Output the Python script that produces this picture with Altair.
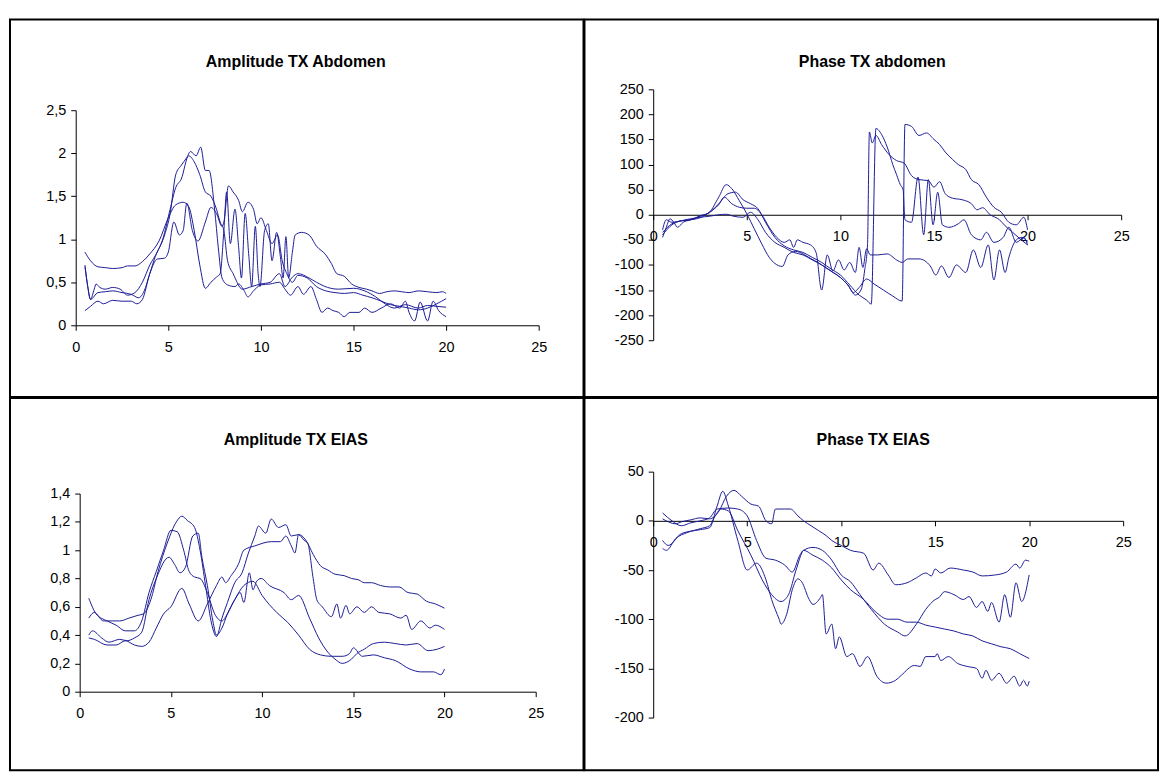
import altair as alt
import pandas as pd

FONT = "Liberation Sans"
BLUE = "#1c1c96"

X_TICKS = [0, 5, 10, 15, 20, 25]
Y_TICKS_AMP_ABD = [0, 0.5, 1, 1.5, 2, 2.5]
Y_TICKS_PH_ABD = [-250, -200, -150, -100, -50, 0, 50, 100, 150, 200, 250]
Y_TICKS_AMP_EIAS = [0, 0.2, 0.4, 0.6, 0.8, 1, 1.2, 1.4]
Y_TICKS_PH_EIAS = [-200, -150, -100, -50, 0, 50]

TITLES = ["Amplitude TX Abdomen", "Phase TX abdomen", "Amplitude TX EIAS", "Phase TX EIAS"]

# ---------------- Amplitude TX Abdomen ----------------
amp_abd_1 = [(0.5,0.85),(0.8,0.75),(1.2,0.68),(1.6,0.67),(2.0,0.66),(2.5,0.67),(2.8,0.69),(3.2,0.69),(3.6,0.74),(4.0,0.83),(4.5,0.98),(5.0,1.25),(5.4,1.4),(5.8,1.43),(6.1,1.38),(6.4,1.1),(6.7,0.7),(7.0,0.43),(7.3,0.5),(7.6,0.56),(7.8,0.6),(8.0,1.1),(8.15,1.55),(8.35,0.95),(8.6,1.35),(8.8,0.9),(8.95,0.55),(9.15,1.3),(9.35,0.8),(9.5,0.45),(9.7,1.15),(9.85,0.6),(9.95,0.45),(10.2,1.1),(10.4,1.18),(10.6,0.75),(10.85,1.08),(11.05,0.8),(11.2,0.55),(11.35,1.03),(11.5,0.55),(11.7,0.85),(11.85,1.05),(12.2,1.08),(12.6,1.05),(13.0,0.92),(13.5,0.82),(13.8,0.72),(14.1,0.6),(14.5,0.57),(14.9,0.48),(15.3,0.44),(15.7,0.42),(16.0,0.4),(16.4,0.37),(16.8,0.39),(17.2,0.4),(17.6,0.39),(18.0,0.38),(18.5,0.4),(19.0,0.39),(19.5,0.38),(19.8,0.39),(20.0,0.37)]
amp_abd_2 = [(0.5,0.7),(0.65,0.45),(0.8,0.3),(1.0,0.42),(1.1,0.48),(1.3,0.44),(1.6,0.42),(2.0,0.44),(2.4,0.42),(2.8,0.35),(3.2,0.38),(3.6,0.5),(4.0,0.7),(4.4,0.85),(4.8,1.05),(5.1,1.3),(5.4,1.75),(5.7,1.86),(6.0,1.95),(6.2,2.02),(6.5,1.97),(6.75,2.07),(7.0,1.8),(7.2,1.8),(7.5,1.35),(7.7,0.9),(7.9,0.55),(8.2,0.47),(8.6,0.45),(8.8,0.48),(9.1,0.4),(9.3,0.33),(9.6,0.4),(10.0,0.47),(10.5,0.48),(11.0,0.5),(11.3,0.42),(11.6,0.35),(12.0,0.45),(12.3,0.36),(12.7,0.45),(13.0,0.3),(13.3,0.15),(13.6,0.2),(13.9,0.17),(14.2,0.15),(14.5,0.1),(14.8,0.15),(15.3,0.15),(15.6,0.2),(16.0,0.15),(16.5,0.2),(17.0,0.25),(17.5,0.2),(17.8,0.28),(18.0,0.15),(18.3,0.05),(18.6,0.27),(19.0,0.05),(19.3,0.28),(19.6,0.17),(20.0,0.1)]
amp_abd_3 = [(0.5,0.68),(0.65,0.45),(0.8,0.3),(1.2,0.38),(1.6,0.39),(2.0,0.4),(2.5,0.38),(3.0,0.36),(3.4,0.32),(3.7,0.4),(4.0,0.6),(4.3,0.8),(4.7,1.0),(5.1,1.35),(5.4,1.6),(5.7,1.7),(6.1,1.97),(6.4,1.9),(6.7,1.75),(7.0,1.55),(7.3,1.5),(7.6,1.35),(7.8,1.2),(8.0,1.1),(8.2,0.75),(8.5,0.6),(9.0,0.42),(9.5,0.45),(10.0,0.48),(10.5,0.5),(11.0,0.6),(11.3,0.45),(11.7,0.56),(12.0,0.6),(12.6,0.55),(13.0,0.5),(13.6,0.44),(14.2,0.42),(15.0,0.43),(15.6,0.4),(16.2,0.33),(16.7,0.25),(17.2,0.2),(17.8,0.24),(18.5,0.2),(19.0,0.23),(19.5,0.22),(20.0,0.21)]
amp_abd_4 = [(0.5,0.17),(0.8,0.22),(1.2,0.28),(1.5,0.25),(2.0,0.29),(2.5,0.28),(3.0,0.28),(3.3,0.25),(3.6,0.3),(4.0,0.6),(4.4,0.77),(4.8,0.78),(5.0,0.85),(5.3,1.2),(5.6,1.05),(5.8,1.1),(6.0,1.42),(6.3,1.1),(6.6,0.98),(7.0,1.2),(7.3,1.37),(7.6,1.3),(7.9,1.15),(8.0,1.2),(8.25,1.62),(8.5,1.55),(8.8,1.45),(9.0,1.32),(9.3,1.43),(9.6,1.35),(9.8,1.18),(10.0,1.25),(10.3,1.1),(10.6,0.95),(10.9,1.05),(11.15,0.75),(11.4,0.6),(11.7,0.5),(12.0,0.58),(12.5,0.55),(13.0,0.45),(13.5,0.4),(14.0,0.38),(14.5,0.37),(15.0,0.38),(15.5,0.35),(16.0,0.32),(16.5,0.28),(17.0,0.24),(17.5,0.22),(18.0,0.2),(18.5,0.18),(19.0,0.2),(19.5,0.25),(20.0,0.31)]

# ---------------- Phase TX abdomen ----------------
ph_abd_1 = [(0.5,-45),(0.7,-25),(0.9,-8),(1.1,-15),(1.3,-25),(1.6,-15),(2.0,-10),(2.5,-3),(3.0,5),(3.5,35),(3.9,60),(4.2,52),(4.6,28),(5.0,2),(5.4,-28),(5.8,-58),(6.2,-85),(6.5,-97),(6.9,-103),(7.2,-80),(7.6,-73),(8.0,-78),(8.4,-87),(8.8,-95),(9.2,-105),(9.6,-115),(10.0,-125),(10.4,-140),(10.8,-160),(11.1,-150),(11.3,-110),(11.45,-60),(11.55,165),(11.7,143),(11.9,158),(12.2,140),(12.6,120),(13.0,108),(13.4,103),(13.8,78),(14.2,70),(14.7,68),(15.0,55),(15.3,66),(15.6,42),(16.0,33),(16.5,30),(17.0,22),(17.3,10),(17.6,14),(18.0,0),(18.5,-10),(18.8,-22),(19.2,-35),(19.6,-48),(20.0,-60)]
ph_abd_2 = [(0.5,-30),(0.7,-10),(1.0,-15),(1.5,-12),(2.0,-10),(2.5,-2),(3.0,4),(3.5,22),(4.0,42),(4.4,45),(4.8,30),(5.2,22),(5.6,12),(6.0,-15),(6.5,-45),(7.0,-62),(7.5,-70),(8.0,-75),(8.5,-85),(9.0,-95),(9.5,-108),(10.0,-120),(10.5,-140),(11.0,-160),(11.4,-170),(11.65,-178),(11.9,172),(12.2,160),(12.5,135),(12.8,100),(13.0,80),(13.2,60),(13.35,50),(13.45,-10),(13.8,-15),(14.15,75),(14.45,-40),(14.7,70),(14.95,-20),(15.2,45),(15.45,-20),(15.8,-25),(16.3,-18),(16.6,-10),(17.0,-40),(17.5,-50),(17.8,-35),(18.2,-55),(18.7,-45),(19.0,-25),(19.4,-55),(19.8,-45),(20.0,-60)]
ph_abd_3 = [(0.5,-35),(1.0,-18),(1.5,-12),(2.0,-8),(2.5,-5),(3.0,-3),(3.5,0),(3.9,1),(4.3,-3),(4.8,-5),(5.2,5),(5.6,-10),(6.0,-35),(6.5,-55),(7.0,-65),(7.5,-75),(8.0,-80),(8.5,-90),(9.0,-100),(9.5,-112),(10.0,-125),(10.4,-140),(10.7,-155),(11.0,-145),(11.4,-128),(11.8,-138),(12.3,-150),(12.8,-162),(13.3,-172),(13.45,180),(13.8,176),(14.2,158),(14.6,163),(15.0,150),(15.3,140),(15.6,125),(16.0,110),(16.3,100),(16.7,90),(17.0,70),(17.4,60),(17.8,35),(18.2,15),(18.6,5),(19.0,-15),(19.4,-20),(19.8,-5),(20.0,-30)]
ph_abd_4 = [(0.5,-40),(1.0,-20),(1.5,-12),(2.0,-10),(2.5,-6),(3.0,5),(3.5,20),(3.8,35),(4.2,22),(4.6,15),(5.0,13),(5.4,13),(5.8,0),(6.2,-25),(6.6,-45),(7.0,-55),(7.3,-50),(7.5,-65),(7.7,-50),(8.0,-55),(8.4,-60),(8.7,-75),(9.0,-150),(9.3,-80),(9.6,-112),(9.9,-90),(10.2,-110),(10.5,-95),(10.8,-115),(11.0,-65),(11.2,-105),(11.4,-68),(11.6,-80),(12.0,-80),(12.5,-78),(13.0,-90),(13.3,-95),(13.6,-88),(14.2,-88),(14.8,-102),(15.1,-120),(15.4,-102),(15.8,-125),(16.2,-100),(16.7,-115),(17.1,-70),(17.5,-105),(17.9,-60),(18.2,-130),(18.5,-70),(18.8,-115),(19.0,-85),(19.4,-50),(19.7,-45),(20.0,-55)]

# ---------------- Amplitude TX EIAS ----------------
amp_eias_1 = [(0.5,0.52),(0.8,0.56),(1.3,0.5),(1.8,0.5),(2.2,0.5),(2.7,0.52),(3.2,0.54),(3.5,0.55),(3.9,0.65),(4.3,0.85),(4.8,1.05),(5.3,1.2),(5.6,1.24),(5.9,1.21),(6.3,1.16),(6.6,1.0),(6.9,0.75),(7.2,0.5),(7.5,0.39),(7.8,0.52),(8.1,0.63),(8.5,0.77),(8.9,0.84),(9.25,0.98),(9.6,1.1),(9.8,1.17),(10.2,1.12),(10.5,1.22),(10.9,1.16),(11.3,1.18),(11.6,1.1),(12.0,1.11),(12.4,1.07),(12.8,0.97),(13.2,0.89),(13.6,0.86),(14.0,0.83),(14.5,0.82),(14.9,0.8),(15.3,0.79),(15.6,0.77),(16.0,0.77),(16.5,0.75),(17.0,0.74),(17.5,0.74),(18.0,0.7),(18.5,0.69),(19.0,0.64),(19.5,0.62),(20.0,0.59)]
amp_eias_2 = [(0.5,0.66),(0.9,0.55),(1.5,0.5),(2.0,0.47),(2.5,0.43),(3.0,0.43),(3.4,0.5),(3.8,0.7),(4.2,0.85),(4.6,1.0),(5.0,1.14),(5.35,1.13),(5.7,1.0),(6.0,0.85),(6.3,0.81),(6.6,0.8),(7.0,0.7),(7.4,0.55),(7.8,0.5),(8.1,0.55),(8.5,0.65),(8.8,0.7),(9.0,0.63),(9.3,0.84),(9.5,0.72),(9.7,0.78),(9.95,0.8),(10.4,0.75),(11.2,0.7),(11.6,0.65),(12.0,0.68),(12.6,0.52),(13.1,0.38),(13.6,0.28),(14.0,0.23),(14.4,0.2),(14.9,0.23),(15.2,0.27),(15.6,0.3),(16.1,0.34),(16.7,0.35),(17.3,0.34),(17.9,0.33),(18.5,0.34),(19.1,0.29),(19.6,0.3),(20.0,0.32)]
amp_eias_3 = [(0.5,0.4),(0.7,0.43),(1.2,0.38),(1.6,0.35),(2.2,0.37),(2.6,0.36),(3.0,0.38),(3.4,0.42),(3.8,0.65),(4.2,0.8),(4.9,0.95),(5.2,0.9),(5.5,0.84),(5.8,0.88),(6.2,1.1),(6.5,1.12),(6.7,0.95),(7.0,0.75),(7.3,0.5),(7.5,0.4),(7.8,0.45),(8.1,0.55),(8.5,0.65),(9.0,0.75),(9.5,0.78),(10.0,0.68),(10.8,0.56),(11.4,0.49),(12.0,0.4),(12.6,0.3),(13.2,0.26),(13.8,0.25),(14.4,0.25),(14.8,0.27),(15.0,0.31),(15.5,0.25),(16.1,0.26),(16.7,0.24),(17.3,0.22),(18.1,0.16),(18.7,0.14),(19.4,0.14),(19.8,0.12),(20.0,0.16)]
amp_eias_4 = [(0.5,0.38),(0.8,0.37),(1.5,0.33),(2.0,0.33),(2.5,0.36),(3.0,0.33),(3.4,0.32),(3.8,0.35),(4.2,0.45),(4.6,0.55),(5.0,0.6),(5.6,0.73),(6.0,0.62),(6.5,0.5),(7.0,0.62),(7.5,0.75),(7.8,0.81),(8.0,0.77),(8.3,0.82),(8.7,0.9),(9.0,1.0),(9.6,1.03),(10.5,1.06),(11.0,1.06),(11.3,1.1),(11.6,1.03),(11.8,0.98),(12.0,1.11),(12.3,1.07),(12.5,1.05),(12.8,0.8),(13.0,0.65),(13.3,0.6),(13.8,0.53),(14.1,0.62),(14.3,0.52),(14.6,0.61),(14.8,0.55),(15.2,0.6),(15.6,0.56),(16.0,0.6),(16.4,0.56),(17.0,0.55),(17.6,0.52),(17.9,0.54),(18.2,0.44),(18.7,0.5),(19.2,0.45),(19.5,0.47),(20.0,0.44)]

# ---------------- Phase TX EIAS ----------------
ph_eias_1 = [(0.5,2),(1.2,-3),(1.5,-1),(2.0,1),(2.5,3),(3.0,2),(3.5,10),(3.9,25),(4.3,31),(4.7,25),(5.2,17),(5.6,15),(6.0,0),(6.3,-3),(6.5,12),(7.0,12),(7.3,12),(7.7,5),(8.0,0),(8.4,-5),(8.8,-10),(9.2,-15),(9.5,-20),(10.0,-25),(10.5,-30),(11.2,-33),(11.7,-50),(12.0,-43),(12.5,-55),(12.9,-65),(13.5,-63),(14.0,-58),(14.5,-53),(14.8,-56),(15.0,-49),(15.3,-53),(15.8,-48),(16.5,-50),(17.0,-52),(17.5,-56),(18.2,-55),(18.8,-52),(19.3,-44),(19.5,-48),(19.8,-40),(20.0,-41)]
ph_eias_2 = [(0.5,-20),(0.8,-25),(1.5,-13),(2.5,-9),(3.0,-7),(3.4,15),(3.7,30),(4.0,15),(4.5,-20),(5.0,-50),(5.5,-43),(6.0,-60),(6.3,-80),(6.7,-100),(6.8,-105),(7.1,-95),(7.4,-70),(7.7,-59),(7.9,-62),(8.3,-80),(8.5,-85),(8.9,-78),(9.0,-75),(9.2,-115),(9.5,-105),(9.7,-130),(9.9,-118),(10.3,-138),(10.6,-135),(11.0,-148),(11.4,-138),(11.9,-158),(12.4,-165),(12.9,-162),(13.2,-157),(13.9,-147),(14.2,-148),(14.5,-138),(15.0,-138),(15.1,-135),(15.3,-142),(15.7,-138),(16.2,-145),(16.7,-148),(17.2,-150),(17.5,-160),(17.7,-152),(18.0,-162),(18.4,-155),(18.8,-165),(19.2,-158),(19.5,-168),(19.7,-162),(19.9,-168),(20.0,-163)]
ph_eias_3 = [(0.5,8),(1.0,0),(1.5,-5),(2.0,-2),(2.5,0),(3.0,3),(3.4,12),(4.0,13),(4.5,12),(5.0,5),(5.5,-20),(6.0,-38),(6.5,-40),(7.0,-45),(7.4,-52),(7.8,-35),(8.0,-30),(8.5,-35),(9.0,-40),(9.5,-48),(10.0,-60),(10.5,-70),(11.2,-80),(11.8,-92),(12.5,-100),(13.0,-100),(13.5,-103),(14.0,-103),(14.5,-106),(15.0,-108),(15.5,-110),(16.0,-112),(16.5,-115),(17.0,-117),(17.5,-122),(18.0,-125),(18.5,-128),(19.0,-130),(19.5,-135),(20.0,-140)]
ph_eias_4 = [(0.5,-28),(0.7,-30),(1.2,-18),(1.8,-12),(2.5,-8),(3.0,-5),(3.3,5),(3.6,12),(4.0,10),(4.5,-10),(5.2,-35),(5.8,-60),(6.3,-75),(6.8,-82),(7.2,-75),(7.6,-50),(8.0,-30),(8.5,-27),(9.0,-30),(9.5,-40),(10.0,-55),(10.5,-62),(11.0,-75),(11.6,-90),(12.3,-105),(13.0,-113),(13.4,-117),(14.0,-105),(14.5,-90),(15.0,-80),(15.2,-78),(15.5,-72),(16.0,-75),(16.5,-80),(16.8,-77),(17.2,-88),(17.5,-82),(17.8,-92),(18.0,-83),(18.4,-103),(18.7,-75),(19.0,-98),(19.3,-63),(19.6,-82),(20.0,-55)]

LABEL_EXPR = "replace(toString(datum.value), '.', ',')"

CELL_W = 576
CELL_H_TOP = 379
CELL_H_BOTTOM = 374


def make_panel(title, series, ydom, yticks, ch, xr, yr, xaxis_y, tx, ty):
    """xr / yr: pixel ranges inside the cell; xaxis_y: pixel row of the x axis."""
    rows = []
    for i, pts in enumerate(series):
        for x, y in pts:
            rows.append({"s": f"s{i}", "x": x, "y": y})
    df = pd.DataFrame(rows)
    lines = alt.Chart(df).mark_line(color=BLUE, strokeWidth=1, interpolate="monotone").encode(
        x=alt.X("x:Q", scale=alt.Scale(domain=[0, 25], range=xr, nice=False, zero=False),
                axis=alt.Axis(values=X_TICKS, title=None, offset=-(ch - xaxis_y), labelPadding=10,
                              labelFlush=False, labelOverlap=False)),
        y=alt.Y("y:Q", scale=alt.Scale(domain=ydom, range=yr, nice=False, zero=False),
                axis=alt.Axis(values=yticks, title=None, labelExpr=LABEL_EXPR, labelPadding=5,
                              offset=-xr[0], labelFlush=False, labelOverlap=False)),
        detail="s:N",
    )
    one = alt.Data(values=[{"k": 0}])
    frame = alt.Chart(one).mark_rect(
        fill="white", fillOpacity=0, stroke="black", strokeWidth=2
    ).encode(
        x=alt.value(0), x2=alt.value(CELL_W), y=alt.value(0), y2=alt.value(ch)
    )
    head = alt.Chart(one).mark_text(
        text=title, font=FONT, fontSize=16, fontWeight="bold", color="black",
        align="center", baseline="middle"
    ).encode(x=alt.value(tx), y=alt.value(ty))
    return alt.layer(frame, head, lines).properties(width=CELL_W, height=ch)


p1 = make_panel(TITLES[0], [amp_abd_1, amp_abd_2, amp_abd_3, amp_abd_4], [0, 2.5], Y_TICKS_AMP_ABD,
                CELL_H_TOP, [66, 531], [307, 91], 307, 287, 43)
p2 = make_panel(TITLES[1], [ph_abd_1, ph_abd_2, ph_abd_3, ph_abd_4], [-250, 250], Y_TICKS_PH_ABD,
                CELL_H_TOP, [69, 539], [322, 70], 196, 289, 43)
p3 = make_panel(TITLES[2], [amp_eias_1, amp_eias_2, amp_eias_3, amp_eias_4], [0, 1.4], Y_TICKS_AMP_EIAS,
                CELL_H_BOTTOM, [70, 528], [295, 96], 295, 287, 42)
p4 = make_panel(TITLES[3], [ph_eias_1, ph_eias_2, ph_eias_3, ph_eias_4], [-200, 50], Y_TICKS_PH_EIAS,
                CELL_H_BOTTOM, [69, 541], [321, 74], 123.4, 290, 42)

chart = alt.vconcat(
    alt.hconcat(p1, p2, spacing=-2),
    alt.hconcat(p3, p4, spacing=-2),
    spacing=-2,
).properties(
    padding={"left": 1, "top": 9, "right": 0, "bottom": 0}
).configure_view(strokeWidth=0).configure_axis(
    domainColor="black", tickColor="black", labelColor="black", labelFont=FONT,
    labelFontSize=14.5, tickSize=5, grid=False, domainWidth=1, tickWidth=1,
).configure_concat(spacing=-2)

chart.save("out.html", embed_options={"renderer": "svg", "actions": False})
